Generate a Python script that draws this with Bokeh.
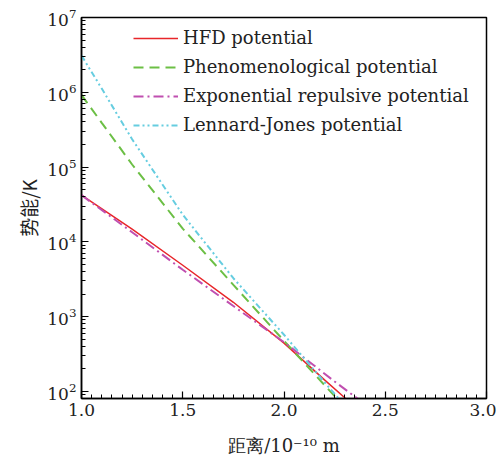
from bokeh.plotting import figure
from bokeh.models import Range1d, SingleIntervalTicker, PrintfTickFormatter, LogTicker, Legend, LegendItem
from bokeh.embed import file_html
from bokeh.resources import INLINE

# data
hfd_x = [1.0, 1.25, 1.5, 1.75, 2.0, 2.2, 2.3, 2.35]
hfd_y = [4.2e4, 1.48e4, 4.85e3, 1.55e3, 440, 142, 82, 60]

pheno_x = [1.0, 1.1, 1.25, 1.5, 1.75, 2.0, 2.25, 2.3]
pheno_y = [9.2e5, 3.9e5, 1.08e5, 1.5e4, 2650, 473, 86, 63]

exp_x = [1.0, 1.25, 1.5, 1.75, 2.0, 2.25, 2.4]
exp_y = [4.2e4, 1.34e4, 4.22e3, 1.38e3, 454, 135, 67]

lj_x = [1.0, 1.1, 1.25, 1.5, 1.75, 2.0, 2.25, 2.3]
lj_y = [3.1e6, 1.12e6, 2.35e5, 2.3e4, 3250, 570, 92, 65]

labels = ["HFD potential", "Phenomenological potential",
          "Exponential repulsive potential", "Lennard-Jones potential"]

SERIF = "DejaVu Serif"
TXT = "#222222"

p = figure(width=496, height=458, y_axis_type="log",
           x_range=Range1d(1.0, 3.0), y_range=Range1d(80, 1e7),
           output_backend="svg", toolbar_location=None,
           min_border_left=81, min_border_top=17, min_border_right=10, min_border_bottom=54)

p.grid.visible = False
p.outline_line_color = "black"
p.outline_line_width = 1.5
p.background_fill_color = "white"

r1 = p.line(hfd_x, hfd_y, line_color="#e8262a", line_width=1.5)
r2 = p.line(pheno_x, pheno_y, line_color="#6cbf45", line_width=2, line_dash="10 6")
r3 = p.line(exp_x, exp_y, line_color="#c04fb0", line_width=2, line_dash="10 4 2 4")
r4 = p.line(lj_x, lj_y, line_color="#66cde0", line_width=2, line_dash="6 3 2 3 2 3")

legend = Legend(items=[LegendItem(label=labels[0], renderers=[r1]),
                       LegendItem(label=labels[1], renderers=[r2]),
                       LegendItem(label=labels[2], renderers=[r3]),
                       LegendItem(label=labels[3], renderers=[r4])],
                location=(52, 263))
legend.border_line_color = None
legend.background_fill_alpha = 0
legend.padding = 0
legend.margin = 0
legend.spacing = 8
legend.glyph_width = 45
legend.glyph_height = 20
legend.label_height = 20
legend.label_standoff = 5
legend.label_text_font = SERIF
legend.label_text_font_size = "18px"
legend.label_text_color = TXT
p.add_layout(legend)

xa = p.xaxis[0]
xa.ticker = SingleIntervalTicker(interval=0.5, num_minor_ticks=10)
xa.formatter = PrintfTickFormatter(format="%.1f")
xa.axis_label = "距离/10⁻¹⁰ m"
xa.axis_label_text_font = SERIF
xa.axis_label_standoff = 16

ya = p.yaxis[0]
ya.ticker = LogTicker(desired_num_ticks=6, num_minor_ticks=10)
ya.axis_label = "势能/K"
ya.axis_label_text_font = "Noto Sans CJK SC"
ya.axis_label_standoff = 2

for ax in (xa, ya):
    ax.axis_line_width = 1.5
    ax.axis_line_color = "black"
    ax.major_tick_in = 7
    ax.major_tick_out = 0
    ax.minor_tick_in = 4
    ax.minor_tick_out = 0
    ax.major_tick_line_width = 1.2
    ax.minor_tick_line_width = 1
    ax.major_label_text_font = SERIF
    ax.major_label_text_font_size = "17px"
    ax.major_label_text_color = TXT
    ax.major_label_standoff = 5
    ax.axis_label_text_font_style = "normal"
    ax.axis_label_text_color = TXT

xa.axis_label_text_font_size = "18px"
ya.axis_label_text_font_size = "19px"

open("out.html", "w").write(file_html(p, INLINE))
